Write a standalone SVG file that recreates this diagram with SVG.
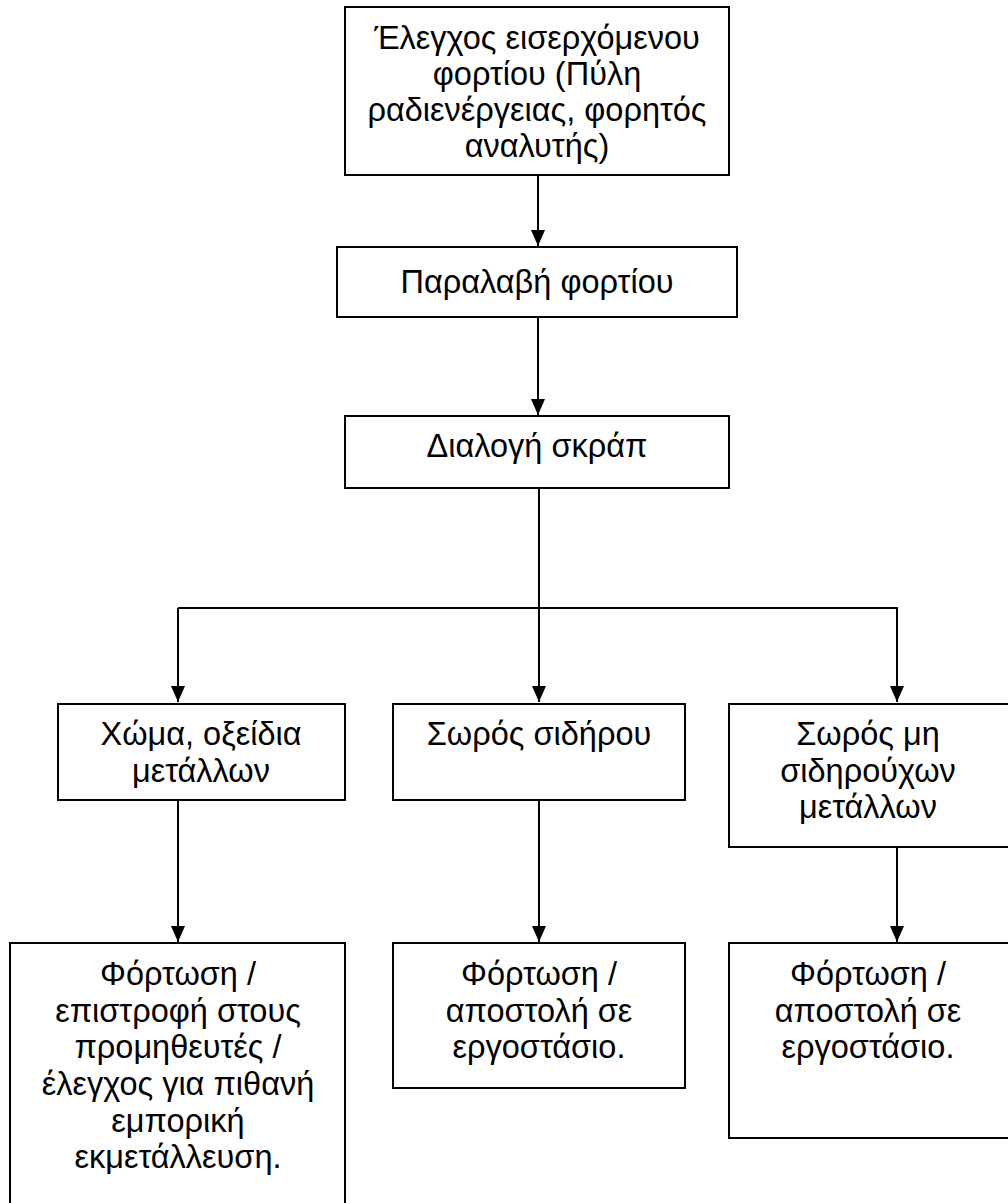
<svg xmlns="http://www.w3.org/2000/svg" width="1008" height="1203" viewBox="0 0 1008 1203">
<style>
.box{fill:#fff;stroke:#000;stroke-width:2}
.t{font-family:"Liberation Sans",Arial,sans-serif;font-size:32.5px;fill:#000;text-anchor:middle}
.c{fill:none;stroke:#000;stroke-width:2}
</style>
<defs>
<marker id="ah" markerUnits="userSpaceOnUse" markerWidth="16" markerHeight="16" viewBox="0 0 16 16" refX="16" refY="8" orient="auto">
<path d="M0,1 L16,8 L0,15 Z" fill="#000"/>
</marker>
</defs>
<rect width="1008" height="1203" fill="#fff"/>
<g id="connectors">
<line class="c" x1="538" y1="175" x2="538" y2="246" marker-end="url(#ah)"/>
<line class="c" x1="538" y1="317" x2="538" y2="415" marker-end="url(#ah)"/>
<line class="c" x1="539" y1="488" x2="539" y2="702" marker-end="url(#ah)"/>
<polyline class="c" points="178,608 897,608 897,702" marker-end="url(#ah)"/>
<line class="c" x1="178" y1="608" x2="178" y2="702" marker-end="url(#ah)"/>
<line class="c" x1="178" y1="800" x2="178" y2="942" marker-end="url(#ah)"/>
<line class="c" x1="539" y1="800" x2="539" y2="942" marker-end="url(#ah)"/>
<line class="c" x1="897" y1="847" x2="897" y2="942" marker-end="url(#ah)"/>
</g>
<g id="n1">
<rect class="box" x="345" y="7" width="384" height="168"/>
<text class="t" x="537" y="49">Έλεγχος εισερχόμενου</text>
<text class="t" x="537" y="85">φορτίου (Πύλη</text>
<text class="t" x="537" y="121">ραδιενέργειας, φορητός</text>
<text class="t" x="537" y="157">αναλυτής)</text>
</g>
<g id="n2">
<rect class="box" x="337" y="247" width="400" height="70"/>
<text class="t" x="537" y="293">Παραλαβή φορτίου</text>
</g>
<g id="n3">
<rect class="box" x="345" y="416" width="384" height="72"/>
<text class="t" x="537" y="457">Διαλογή σκράπ</text>
</g>
<g id="n4">
<rect class="box" x="58" y="704" width="287" height="96"/>
<text class="t" x="201" y="745">Χώμα, οξείδια</text>
<text class="t" x="201" y="782">μετάλλων</text>
</g>
<g id="n5">
<rect class="box" x="393" y="704" width="292" height="96"/>
<text class="t" x="539" y="745">Σωρός σιδήρου</text>
</g>
<g id="n6">
<rect class="box" x="729" y="704" width="290" height="143"/>
<text class="t" x="868" y="745">Σωρός μη</text>
<text class="t" x="868" y="782">σιδηρούχων</text>
<text class="t" x="868" y="818">μετάλλων</text>
</g>
<g id="n7">
<rect class="box" x="10" y="943" width="335" height="290"/>
<text class="t" x="178" y="985">Φόρτωση /</text>
<text class="t" x="178" y="1022">επιστροφή στους</text>
<text class="t" x="178" y="1058">προμηθευτές /</text>
<text class="t" x="178" y="1095">έλεγχος για πιθανή</text>
<text class="t" x="178" y="1132">εμπορική</text>
<text class="t" x="178" y="1168">εκμετάλλευση.</text>
</g>
<g id="n8">
<rect class="box" x="393" y="943" width="292" height="145"/>
<text class="t" x="539" y="985">Φόρτωση /</text>
<text class="t" x="539" y="1022">αποστολή σε</text>
<text class="t" x="539" y="1058">εργοστάσιο.</text>
</g>
<g id="n9">
<rect class="box" x="729" y="943" width="290" height="195"/>
<text class="t" x="868" y="985">Φόρτωση /</text>
<text class="t" x="868" y="1022">αποστολή σε</text>
<text class="t" x="868" y="1058">εργοστάσιο.</text>
</g>
</svg>
